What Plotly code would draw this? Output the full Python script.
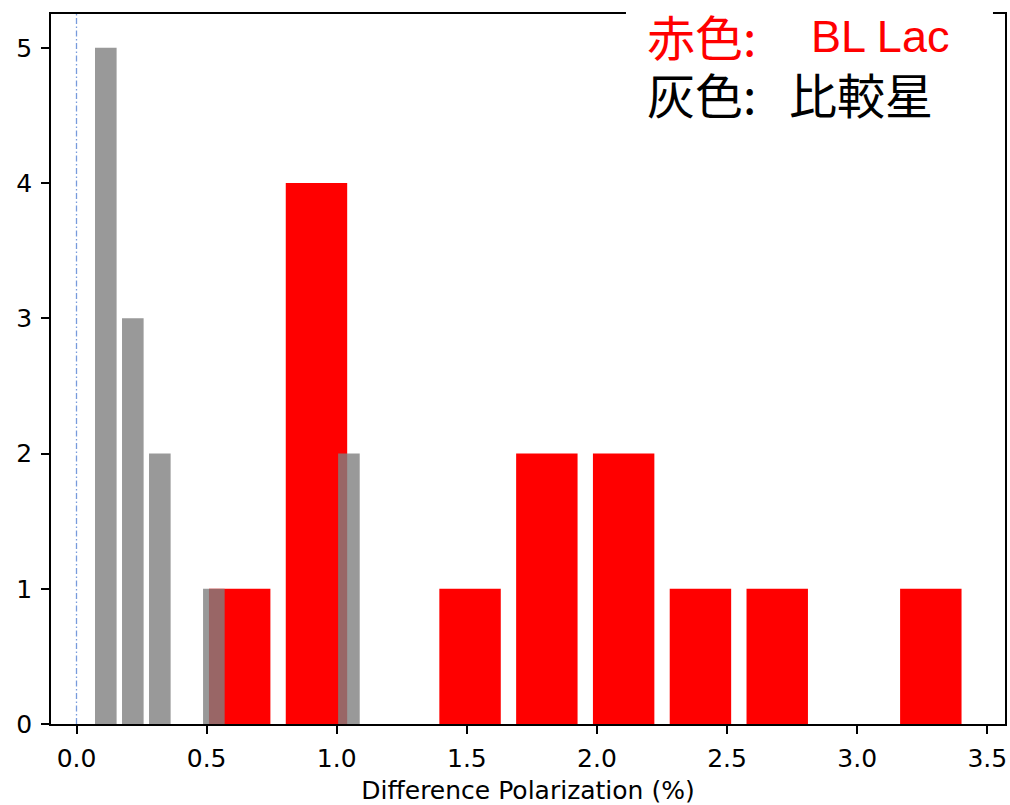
import plotly.graph_objects as go

# Histogram data
red_bin_start = 0.4795
red_bin_width = 0.2951
red_counts = [1, 4, 0, 1, 2, 2, 1, 1, 0, 1]

grey_bin_start = 0.0607
grey_bin_width = 0.1038
grey_counts = [5, 3, 2, 0, 1, 0, 0, 0, 0, 2]

x_ticks = [0.0, 0.5, 1.0, 1.5, 2.0, 2.5, 3.0, 3.5]
y_ticks = [0, 1, 2, 3, 4, 5]

red_centers = [red_bin_start + (i + 0.5) * red_bin_width for i in range(len(red_counts))]
grey_centers = [grey_bin_start + (i + 0.5) * grey_bin_width for i in range(len(grey_counts))]

fig = go.Figure()
fig.add_trace(go.Bar(x=red_centers, y=red_counts, width=0.8 * red_bin_width,
                     marker=dict(color="#ff0000", line=dict(width=0)), showlegend=False))
fig.add_trace(go.Bar(x=grey_centers, y=grey_counts, width=0.8 * grey_bin_width,
                     marker=dict(color="rgb(128,128,128)", opacity=0.8, line=dict(width=0)),
                     showlegend=False))

# vertical dash-dot line at x = 0
fig.add_shape(type="line", xref="x", yref="paper", x0=0, x1=0, y0=0, y1=1,
              line=dict(color="rgb(120,155,220)", width=1.3, dash="6px,2.5px,1.5px,2.5px"),
              layer="below")

# white box behind the text (covers the top spine)
fig.add_shape(type="rect", xref="paper", yref="paper", x0=0.6027, x1=0.9874, y0=0.84, y1=1.05,
              fillcolor="white", line=dict(width=0), layer="above")

cjk = "Noto Sans CJK JP"
fig.add_annotation(text="赤色:", xref="paper", yref="paper", x=0.6225, y=0.970,
                   xanchor="left", yanchor="middle", showarrow=False,
                   font=dict(family=cjk, size=48, color="#ff0000"))
fig.add_annotation(text="BL Lac", xref="paper", yref="paper", x=0.869, y=0.969,
                   xanchor="center", yanchor="middle", showarrow=False,
                   font=dict(family="Liberation Sans", size=45, color="#ff0000"))
fig.add_annotation(text="灰色:", xref="paper", yref="paper", x=0.6225, y=0.889,
                   xanchor="left", yanchor="middle", showarrow=False,
                   font=dict(family=cjk, size=48, color="black"))
fig.add_annotation(text="比較星", xref="paper", yref="paper", x=0.7715, y=0.889,
                   xanchor="left", yanchor="middle", showarrow=False,
                   font=dict(family=cjk, size=48, color="black"))

axis_common = dict(showline=True, linecolor="black", linewidth=1.6, mirror=True,
                   ticks="outside", ticklen=8, tickwidth=1.6, tickcolor="black",
                   showgrid=False, zeroline=False, automargin=False,
                   tickfont=dict(family="DejaVu Sans", size=25, color="black"))

fig.update_xaxes(range=[-0.098, 3.568], tickvals=x_ticks, tickformat=".1f",
                 ticklabelstandoff=3,
                 title=dict(text="Difference Polarization (%)", standoff=12,
                            font=dict(family="DejaVu Sans", size=25, color="black")),
                 **axis_common)
fig.update_yaxes(range=[0, 5.25], tickvals=y_ticks, ticklabelstandoff=4, **axis_common)

fig.update_layout(width=1010, height=805, barmode="overlay",
                  margin=dict(l=51, r=5, t=14, b=81),
                  plot_bgcolor="white", paper_bgcolor="white")

# remove the page's default body margin so the figure fills the window exactly
fig.write_html("out.html", config={"displayModeBar": False},
               post_script="document.body.style.margin='0';document.body.style.overflow='hidden';")
